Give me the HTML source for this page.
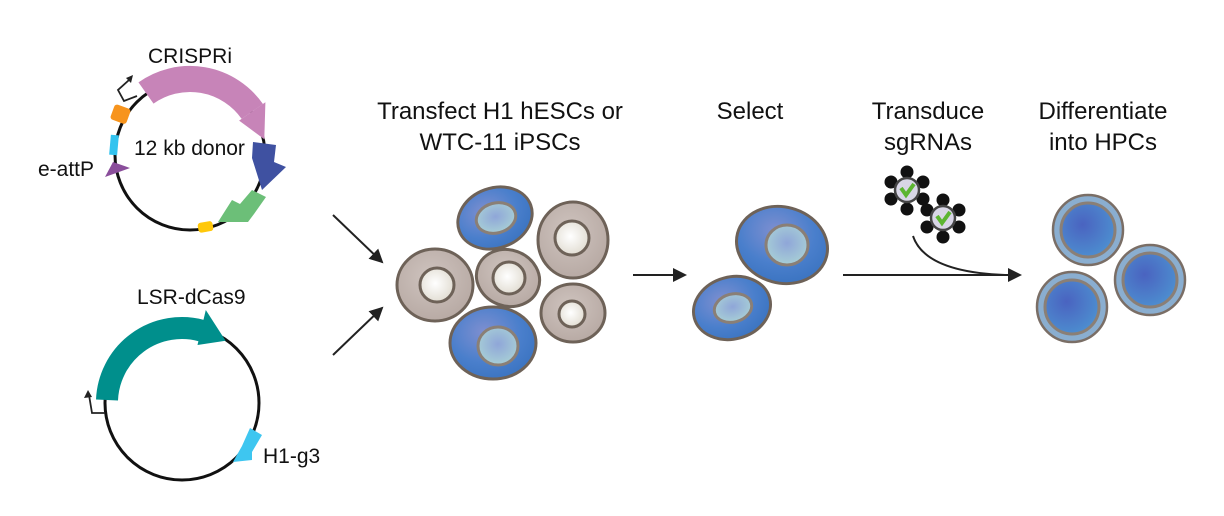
<!DOCTYPE html>
<html><head><meta charset="utf-8"><style>
html,body{margin:0;padding:0;background:#fff;}
svg{display:block}
text{font-family:"Liberation Sans",Arial,sans-serif;fill:#111;}
</style></head><body>
<svg width="1224" height="516" viewBox="0 0 1224 516" xmlns="http://www.w3.org/2000/svg">
<defs>
<radialGradient id="blue" cx="40%" cy="35%" r="70%"><stop offset="0" stop-color="#7f8fd0"/><stop offset="0.6" stop-color="#4a7fcc"/><stop offset="1" stop-color="#3a73c0"/></radialGradient>
<radialGradient id="nucB" cx="50%" cy="45%" r="60%"><stop offset="0" stop-color="#8fa6d8"/><stop offset="1" stop-color="#a9d2d6"/></radialGradient>
<radialGradient id="grey" cx="45%" cy="40%" r="65%"><stop offset="0" stop-color="#cfc4bf"/><stop offset="1" stop-color="#b6a8a2"/></radialGradient>
<radialGradient id="nucW" cx="45%" cy="45%" r="60%"><stop offset="0" stop-color="#ffffff"/><stop offset="1" stop-color="#e0dbd0"/></radialGradient>
<radialGradient id="hpc" cx="40%" cy="40%" r="65%"><stop offset="0" stop-color="#4a63c0"/><stop offset="1" stop-color="#4d8fd0"/></radialGradient>
<marker id="ah" markerWidth="14" markerHeight="14" refX="12" refY="7" orient="auto" markerUnits="userSpaceOnUse"><path d="M0,0 L14,7 L0,14 z" fill="#222"/></marker>
</defs>

<!-- Top plasmid -->
<circle cx="190" cy="155" r="75" fill="none" stroke="#111" stroke-width="3"/>
<path d="M146,93 A76,76 0 0 1 252.3,111.4" fill="none" stroke="#c784b8" stroke-width="26"/>
<polygon points="239.1,120.6 265.4,102.2 264.3,139.2" fill="#c784b8"/>
<polygon points="253,142 276,145 274,162 286,167 262,190 252,158" fill="#3f51a1"/>
<polygon points="252,190 266,197 254,214 248,222 218,222 232,200 240,204" fill="#6cbf78"/>
<rect x="198" y="222" width="15" height="10" rx="3" fill="#ffc80a" transform="rotate(-10 205 227)"/>
<rect x="112" y="106" width="17" height="16" rx="3" fill="#f7941d" transform="rotate(20 120 114)"/>
<rect x="110" y="135" width="8" height="20" fill="#33c3ef" transform="rotate(5 114 145)"/>
<polygon points="105,177 130,168 113,162" fill="#8a4e9b"/>
<path d="M137,96 L124,101 L118,90 L129,80" fill="none" stroke="#222" stroke-width="1.8"/>
<polygon points="133,75 126,78 131,83" fill="#222"/>
<text x="148" y="63" font-size="21">CRISPRi</text>
<text x="134" y="155" font-size="21">12 kb donor</text>
<text x="38" y="176" font-size="21">e-attP</text>

<!-- Bottom plasmid -->
<circle cx="182" cy="403" r="77" fill="none" stroke="#111" stroke-width="3"/>
<path d="M107,400 A75,75 0 0 1 201.4,330.6" fill="none" stroke="#008f8c" stroke-width="22"/>
<polygon points="197.5,345 205.8,310 225.6,340.8" fill="#008f8c"/>
<polygon points="250,428 262,435 252,452 252,460 233,462 242,446" fill="#3ec6f0"/>
<path d="M105,413 L92,413 L89,395" fill="none" stroke="#222" stroke-width="1.8"/>
<polygon points="88,390 84,398 92,397" fill="#222"/>
<text x="137" y="304" font-size="21">LSR-dCas9</text>
<text x="263" y="463" font-size="21">H1-g3</text>

<!-- arrows -->
<line x1="333" y1="215" x2="382" y2="262" stroke="#222" stroke-width="2" marker-end="url(#ah)"/>
<line x1="333" y1="355" x2="382" y2="308" stroke="#222" stroke-width="2" marker-end="url(#ah)"/>
<line x1="633" y1="275" x2="685" y2="275" stroke="#222" stroke-width="2" marker-end="url(#ah)"/>
<line x1="843" y1="275" x2="1020" y2="275" stroke="#222" stroke-width="2" marker-end="url(#ah)"/>
<path d="M913,236 Q925,272 1005,275" fill="none" stroke="#222" stroke-width="2"/>

<!-- headers -->
<text x="500" y="119" font-size="24" text-anchor="middle">Transfect H1 hESCs or</text>
<text x="500" y="150" font-size="24" text-anchor="middle">WTC-11 iPSCs</text>
<text x="750" y="119" font-size="24" text-anchor="middle">Select</text>
<text x="928" y="119" font-size="24" text-anchor="middle">Transduce</text>
<text x="928" y="150" font-size="24" text-anchor="middle">sgRNAs</text>
<text x="1103" y="119" font-size="24" text-anchor="middle">Differentiate</text>
<text x="1103" y="150" font-size="24" text-anchor="middle">into HPCs</text>

<!-- cell cluster -->
<g stroke="#6e6258" stroke-width="3">
<ellipse cx="495" cy="218" rx="38" ry="30" transform="rotate(-20 495 218)" fill="url(#blue)"/>
<ellipse cx="496" cy="218" rx="20" ry="15" transform="rotate(-15 496 218)" fill="url(#nucB)" stroke="#8a7f76"/>
<ellipse cx="573" cy="240" rx="35" ry="38" fill="url(#grey)"/>
<circle cx="572" cy="238" r="17" fill="url(#nucW)"/>
<ellipse cx="435" cy="285" rx="38" ry="36" fill="url(#grey)"/>
<circle cx="437" cy="285" r="17" fill="url(#nucW)"/>
<ellipse cx="508" cy="278" rx="32" ry="28" transform="rotate(20 508 278)" fill="url(#grey)"/>
<circle cx="509" cy="278" r="16" fill="url(#nucW)"/>
<ellipse cx="573" cy="313" rx="32" ry="29" fill="url(#grey)"/>
<circle cx="572" cy="314" r="13" fill="url(#nucW)"/>
<ellipse cx="493" cy="343" rx="43" ry="36" fill="url(#blue)"/>
<ellipse cx="498" cy="346" rx="20" ry="19" fill="url(#nucB)" stroke="#8a7f76"/>
<!-- selected -->
<ellipse cx="782" cy="245" rx="46" ry="38" transform="rotate(15 782 245)" fill="url(#blue)"/>
<ellipse cx="787" cy="245" rx="21" ry="20" fill="url(#nucB)" stroke="#8a7f76"/>
<ellipse cx="732" cy="308" rx="39" ry="31" transform="rotate(-15 732 308)" fill="url(#blue)"/>
<ellipse cx="733" cy="308" rx="19" ry="14" transform="rotate(-15 733 308)" fill="url(#nucB)" stroke="#8a7f76"/>
</g>

<!-- viruses -->
<g>
<g transform="translate(907,190)">
<g fill="#111"><circle cx="0" cy="-18" r="6.5"/><circle cx="16" cy="-8" r="6.5"/><circle cx="16" cy="9" r="6.5"/><circle cx="0" cy="19" r="6.5"/><circle cx="-16" cy="9" r="6.5"/><circle cx="-16" cy="-8" r="6.5"/></g>
<circle r="12" fill="#d8d6e6" stroke="#444" stroke-width="2.5"/>
<path d="M-6,-2 L-1,5 L7,-6" fill="none" stroke="#5cb531" stroke-width="4"/>
</g>
<g transform="translate(943,218)">
<g fill="#111"><circle cx="0" cy="-18" r="6.5"/><circle cx="16" cy="-8" r="6.5"/><circle cx="16" cy="9" r="6.5"/><circle cx="0" cy="19" r="6.5"/><circle cx="-16" cy="9" r="6.5"/><circle cx="-16" cy="-8" r="6.5"/></g>
<circle r="12" fill="#d8d6e6" stroke="#444" stroke-width="2.5"/>
<path d="M-6,-2 L-1,5 L7,-6" fill="none" stroke="#5cb531" stroke-width="4"/>
</g>
</g>

<!-- HPCs -->
<g>
<circle cx="1088" cy="230" r="35" fill="#8aaed0" stroke="#7a6e66" stroke-width="2.5"/>
<circle cx="1088" cy="230" r="27" fill="url(#hpc)" stroke="#8a7f76" stroke-width="3"/>
<circle cx="1072" cy="307" r="35" fill="#8aaed0" stroke="#7a6e66" stroke-width="2.5"/>
<circle cx="1072" cy="307" r="27" fill="url(#hpc)" stroke="#8a7f76" stroke-width="3"/>
<circle cx="1150" cy="280" r="35" fill="#8aaed0" stroke="#7a6e66" stroke-width="2.5"/>
<circle cx="1150" cy="280" r="27" fill="url(#hpc)" stroke="#8a7f76" stroke-width="3"/>
</g>
</svg>
</body></html>
